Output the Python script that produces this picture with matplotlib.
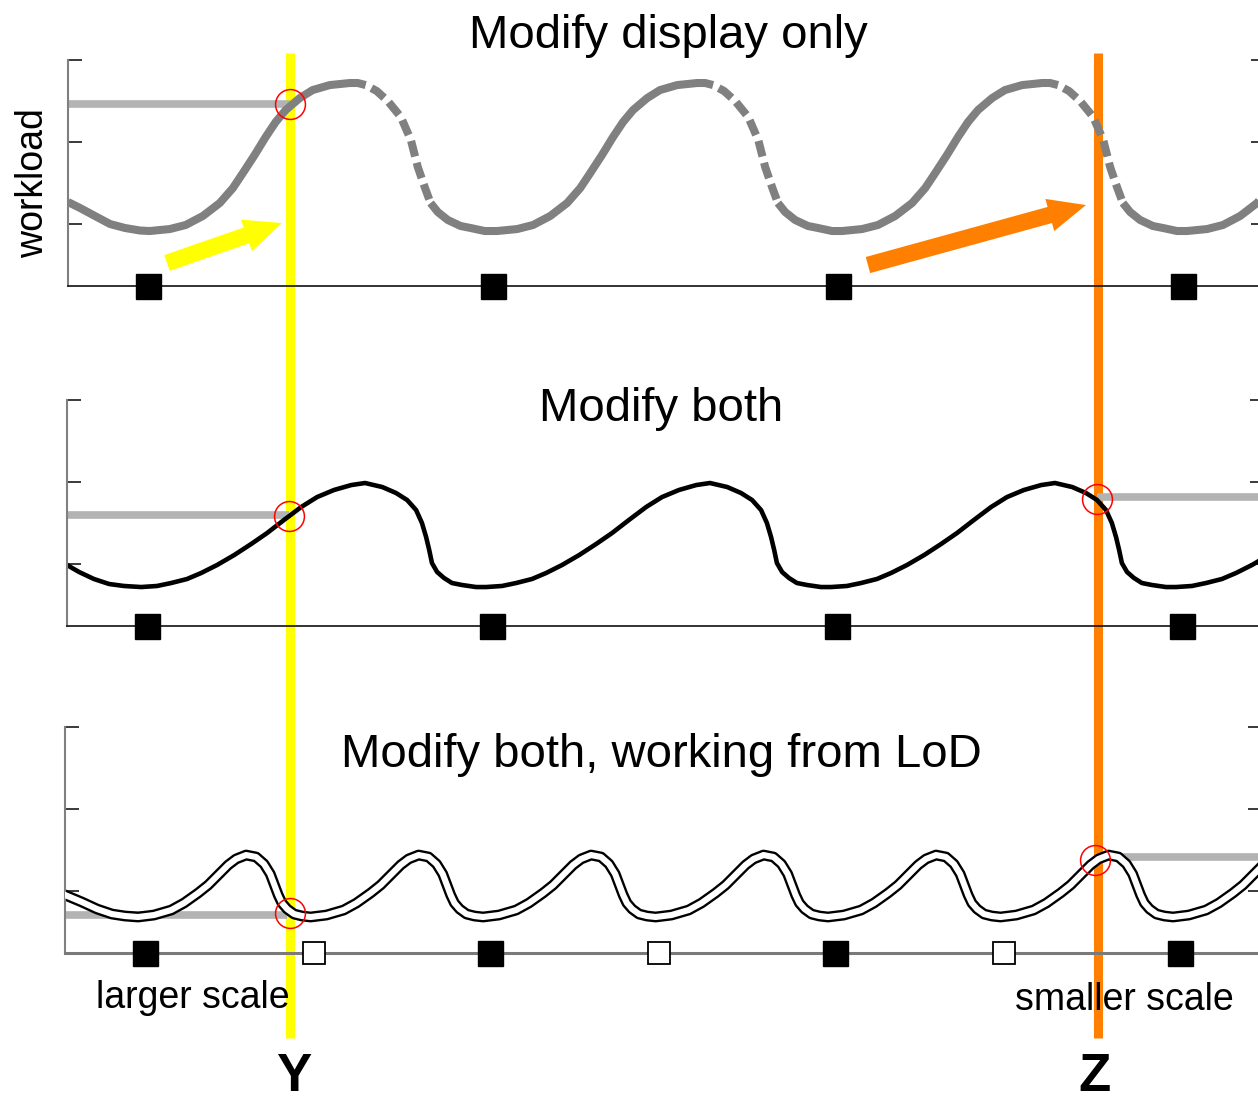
############################# Title #############################

''' Workload / display schematic: three panels with Y and Z markers '''

############################ Settings ###########################

import numpy as np
import matplotlib.pyplot as plt
from matplotlib.patches import FancyArrowPatch

plt.rcParams['font.family'] = ['Liberation Sans', 'DejaVu Sans']

############################# Data ##############################

''' Time axis in days, workload in tick units '''
days = [1, 2, 3, 4]                 # black squares
lod_days = [1.49, 2.49, 3.49]       # white squares (LoD samples)
y_ticks = [0.75, 1.75, 2.75]
t_lim = (0.768, 4.238)

t_Y = 1.412
t_Z = 3.754

top_troughs = [1.005, 2.012, 3.012, 4.012]
top_dt = [0.000, 0.058, 0.104, 0.154, 0.203, 0.241, 0.270, 0.304, 0.336, 0.365,
          0.394, 0.435, 0.472, 0.522, 0.580, 0.603, 0.626, 0.658, 0.690, 0.728,
          0.757, 0.777, 0.797, 0.814, 0.835, 0.864, 0.901, 0.930, 0.971]
top_w = [0.669, 0.693, 0.742, 0.852, 1.010, 1.192, 1.375, 1.594, 1.813, 1.995,
         2.141, 2.287, 2.384, 2.445, 2.470, 2.470, 2.445, 2.372, 2.251, 2.056,
         1.776, 1.448, 1.204, 1.010, 0.900, 0.803, 0.730, 0.706, 0.669]
top_lead_t = [0.768, 0.803, 0.846, 0.890, 0.933, 0.977]
top_lead_w = [1.022, 0.949, 0.852, 0.754, 0.706, 0.675]
top_dash = (0.626, 0.814)           # part of each period drawn dashed

#   Middle panel
mid_troughs = [0.983, 1.983, 2.983, 3.983]
mid_dt = [0.000, 0.046, 0.087, 0.133, 0.174, 0.220, 0.270, 0.319, 0.365, 0.414,
          0.464, 0.510, 0.559, 0.609, 0.649, 0.699, 0.739, 0.771, 0.797, 0.814,
          0.826, 0.835, 0.843, 0.858, 0.878, 0.901, 0.930, 0.971]
mid_w = [0.474, 0.487, 0.523, 0.572, 0.645, 0.742, 0.864, 0.998, 1.131, 1.290,
         1.448, 1.569, 1.655, 1.715, 1.740, 1.691, 1.618, 1.533, 1.411, 1.253,
         1.083, 0.925, 0.766, 0.657, 0.584, 0.523, 0.499, 0.474]
mid_lead_t = [0.768, 0.803, 0.846, 0.890, 0.933]
mid_lead_w = [0.742, 0.657, 0.572, 0.511, 0.487]

#   Bottom panel (LoD, twice the frequency)
bot_troughs = [0.980, 1.480, 1.980, 2.480, 2.980, 3.480, 3.980]
bot_dt = [0.000, 0.046, 0.096, 0.133, 0.174, 0.203, 0.232, 0.261, 0.284, 0.313,
          0.342, 0.365, 0.383, 0.394, 0.406, 0.417, 0.432, 0.452, 0.475]
bot_w = [0.438, 0.462, 0.523, 0.608, 0.730, 0.827, 0.949, 1.071, 1.144, 1.192,
         1.168, 1.083, 0.961, 0.839, 0.706, 0.608, 0.535, 0.474, 0.450]
bot_lead_t = [0.768, 0.817, 0.861, 0.904, 0.942]
bot_lead_w = [0.706, 0.620, 0.535, 0.474, 0.450]

#   Reference levels and picked points
top_ref_Y = 2.21
mid_ref_Y, mid_ref_Z = 1.35, 1.57
bot_ref_Y, bot_ref_Z = 0.46, 1.17
top_pick = [(t_Y, 2.21)]
mid_pick = [(t_Y, 1.34), (t_Z, 1.55)]
bot_pick = [(t_Y + 0.008, 0.49), (t_Z, 1.13)]

#   Arrows in top panel (start, end)
yellow_arrow = ((1.055, 0.280), (1.388, 0.766))
orange_arrow = ((3.087, 0.255), (3.719, 0.985))

########################## Helpers ##############################

def wave(lead_t, lead_w, troughs, dt, w):
    t_all = list(lead_t)
    w_all = list(lead_w)
    for t0 in troughs:
        t_all += [t0 + d for d in dt]
        w_all += list(w)
    return np.array(t_all), np.array(w_all)

def frame(ax, base_color, base_lw):
    ax.set_xlim(t_lim)
    ax.set_ylim(0, 2.75)
    ax.set_facecolor('none')
    ax.set_xticks([])
    ax.set_yticks(y_ticks)
    ax.tick_params(axis='y', direction='in', length=10, width=1.4,
                   color='#3a3a3a', left=True, right=True,
                   labelleft=False, labelright=False)
    ax.spines['top'].set_visible(False)
    ax.spines['right'].set_visible(False)
    ax.spines['left'].set_color('#808080')
    ax.spines['left'].set_linewidth(1.5)
    ax.spines['bottom'].set_color(base_color)
    ax.spines['bottom'].set_linewidth(base_lw)

########################## Figure ###############################

W, H = 1258, 1103
fig = plt.figure(figsize=(W / 100, H / 100), dpi=100)
fig.patch.set_facecolor('white')

''' Overlay for the Y / Z lines and labels '''
ov = fig.add_axes([0, 0, 1, 1], zorder=0)
ov.set_xlim(0.571, 4.217)
ov.set_ylim(H, 0)
ov.set_axis_off()
ov.vlines([t_Y], 53, 1038, color='#ffff00', lw=6.5, capstyle='butt')
ov.vlines([t_Z], 53, 1038, color='#ff8000', lw=6.5, capstyle='butt')
ov.text(t_Y + 0.01, 1102, 'Y', fontsize=38, fontweight='bold',
        ha='center', va='bottom', zorder=5)
ov.text(t_Z - 0.01, 1102, 'Z', fontsize=38, fontweight='bold',
        ha='center', va='bottom', zorder=5)
ov.text(0.849, 1008, 'larger scale', fontsize=27, ha='left',
        va='baseline', zorder=5)
ov.text(3.513, 1010, 'smaller scale', fontsize=27, ha='left',
        va='baseline', zorder=5)

def panel(left_px, base_px):
    return fig.add_axes([left_px / W, (H - base_px) / H, 1197 / W, 226 / H],
                        zorder=1)

ref_kw = dict(color='#b3b3b3', lw=5.5, capstyle='butt', zorder=1)
pick_kw = dict(marker='o', ms=21.5, mfc='none', mec='#ff0000', mew=1.1,
               ls='none', zorder=6, clip_on=False)

''' Top panel: Modify display only '''
ax1 = panel(68, 286)
frame(ax1, '#111111', 1.2)
t1, w1 = wave(top_lead_t, top_lead_w, top_troughs, top_dt, top_w)
ax1.hlines(top_ref_Y, t_lim[0], t_Y, **ref_kw)
phase = np.concatenate([np.full(len(top_lead_t), -1.0),
                        np.tile(top_dt, len(top_troughs))])
inside = (phase > top_dash[0]) & (phase < top_dash[1])
ax1.plot(t1, np.where(inside, np.nan, w1), color='#808080', lw=5.8,
         solid_capstyle='butt', solid_joinstyle='round', zorder=2)
i0, i1 = top_dt.index(top_dash[0]), top_dt.index(top_dash[1])
for t0 in top_troughs:
    ax1.plot([t0 + d for d in top_dt[i0:i1 + 1]], top_w[i0:i1 + 1],
             color='#808080', lw=5.8, ls=(2.0, (2.0, 0.8)),
             dash_capstyle='butt', dash_joinstyle='round', zorder=2)
for (a, b), col in [(yellow_arrow, '#ffff00'), (orange_arrow, '#ff8000')]:
    ax1.add_patch(FancyArrowPatch(a, b, arrowstyle='simple,head_length=27,'
                                  'head_width=24,tail_width=12',
                                  mutation_scale=1, color=col, lw=0,
                                  shrinkA=0, shrinkB=0, zorder=3))
ax1.plot(*zip(*top_pick), **pick_kw)
ax1.plot(days, [0] * len(days), 's', ms=18, color='black',
         clip_on=False, zorder=5)

''' Middle panel: Modify both '''
ax2 = panel(67, 626)
frame(ax2, '#111111', 1.2)
t2, w2 = wave(mid_lead_t, mid_lead_w, mid_troughs, mid_dt, mid_w)
ax2.hlines(mid_ref_Y, t_lim[0], t_Y, **ref_kw)
ax2.hlines(mid_ref_Z, t_Z, t_lim[1], **ref_kw)
ax2.plot(t2, w2, color='black', lw=3.3, solid_joinstyle='round', zorder=2)
ax2.plot(*zip(*mid_pick), **pick_kw)
ax2.plot(days, [0] * len(days), 's', ms=18, color='black',
         clip_on=False, zorder=5)

''' Bottom panel: Modify both, working from LoD '''
ax3 = panel(65, 953)
frame(ax3, '#7a7a7a', 2.2)
t3, w3 = wave(bot_lead_t, bot_lead_w, bot_troughs, bot_dt, bot_w)
ax3.hlines(bot_ref_Y, t_lim[0], t_Y, **ref_kw)
ax3.hlines(bot_ref_Z, t_Z, t_lim[1], **ref_kw)
ax3.plot(t3, w3, color='black', lw=7.8, solid_joinstyle='round', zorder=2)
ax3.plot(t3, w3, color='white', lw=4.4, solid_joinstyle='round', zorder=3)
ax3.plot(*zip(*bot_pick), **pick_kw)
ax3.plot(days, [0] * len(days), 's', ms=18, color='black',
         clip_on=False, zorder=5)
ax3.plot(lod_days, [0] * len(lod_days), 's', ms=16.5, mfc='white',
         mec='black', mew=1.3, clip_on=False, zorder=5)

''' Titles and axis label '''
fig.text(668 / W, 1 - 48 / H, 'Modify display only', fontsize=34,
         ha='center', va='baseline')
fig.text(661 / W, 1 - 421 / H, 'Modify both', fontsize=34,
         ha='center', va='baseline')
fig.text(661 / W, 1 - 767 / H, 'Modify both, working from LoD', fontsize=34,
         ha='center', va='baseline')
fig.text(33 / W, 1 - 183 / H, 'workload', fontsize=27, rotation=90,
         ha='center', va='center')

plt.savefig('out.png', dpi=100)
